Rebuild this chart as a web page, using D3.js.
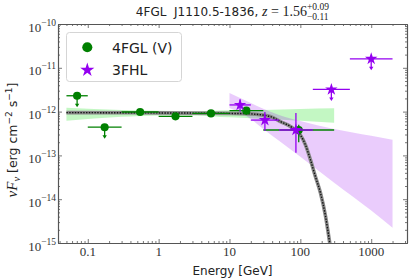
<!DOCTYPE html>
<html>
<head>
<meta charset="utf-8">
<script src="https://cdn.jsdelivr.net/npm/d3@7"></script>
<style>
body{margin:0;background:#fff;}
svg{display:block;}
</style>
</head>
<body>
<div id="chart"></div>
<script>
// 4FGL (V) band points [GeV], nuFnu [erg cm-2 s-1]
var fglE    = [0.0707, 0.173, 0.548, 1.73, 5.48, 17.3, 94.9];
var fglElo  = [0.05, 0.1, 0.3, 1, 3, 10, 30];
var fglEhi  = [0.1, 0.3, 1, 3, 10, 30, 300];
var fglF    = [2.3e-12, 4.4e-13, 9.8e-13, 7.8e-13, 9.1e-13, 1.05e-12, 3.8e-13];
var fglFlo  = [null, null, 9.0e-13, 7.2e-13, 8.5e-13, 9.6e-13, 2.0e-13];
var fglFhi  = [null, null, 1.06e-12, 8.4e-13, 9.7e-13, 1.14e-12, 5.0e-13];
var fglUL   = [true, true, false, false, false, false, false];

// 3FHL points
var fhlE    = [14.1, 31.6, 86.6, 274, 1000];
var fhlElo  = [10, 20, 50, 150, 500];
var fhlEhi  = [20, 50, 150, 500, 2000];
var fhlF    = [1.42e-12, 6.4e-13, 3.8e-13, 3.2e-12, 1.6e-11];
var fhlFlo  = [1.0e-12, 3.6e-13, 1.15e-13, null, null];
var fhlFhi  = [1.9e-12, 9.8e-13, 9.3e-13, null, null];
var fhlUL   = [false, false, false, true, true];

// butterflies
var fglBandE  = [0.05, 0.3, 1, 3, 10, 30, 100, 300];
var fglBandHi = [1.23e-12, 1.09e-12, 1.04e-12, 1.01e-12, 1.07e-12, 1.09e-12, 1.15e-12, 1.19e-12];
var fglBandLo = [6.2e-13, 7.6e-13, 8.2e-13, 8.2e-13, 7.4e-13, 6.8e-13, 6.2e-13, 5.6e-13];
var fhlBandE  = [10, 20, 30, 50, 100, 300, 1000, 2000];
var fhlBandHi = [2.67e-12, 1.58e-12, 1.16e-12, 8.4e-13, 6.1e-13, 4.0e-13, 2.8e-13, 2.27e-13];
var fhlBandLo = [1.21e-12, 6.8e-13, 4.0e-13, 2.15e-13, 9.3e-14, 2.37e-14, 5.5e-15, 2.24e-15];

// model curve
var modelE = [0.05, 1, 10, 19.7, 37.8, 52.4, 72.5, 100, 118, 139, 163, 192, 226, 260, 300];
var modelF = [9.5e-13, 9.33e-13, 9.1e-13, 8.87e-13, 7.7e-13, 5.9e-13, 4.55e-13, 2.94e-13, 1.74e-13, 7.9e-14, 3.3e-14, 1.4e-14, 4.2e-15, 1.0e-15, 2e-16];

var xMajor = [0.1, 1, 10, 100, 1000];
var xMajorLabels = ["0.1", "1", "10", "100", "1000"];
var yMajor = [1e-15, 1e-14, 1e-13, 1e-12, 1e-11, 1e-10];
var yExp = ["\u221215", "\u221214", "\u221213", "\u221212", "\u221211", "\u221210"];

var W = 420, H = 280;
var margin = {top: 24, right: 13, bottom: 37, left: 58};
var width = W - margin.left - margin.right,
    height = H - margin.top - margin.bottom;
var sans = "DejaVu Sans, sans-serif",
    serif = "Liberation Serif, DejaVu Serif, serif";
var cGreen = "#008000", cPurple = "#9400f0", cAxis = "#555";

var x = d3.scaleLog().domain([0.038, 3200]).range([0, width]);
var y = d3.scaleLog().domain([1e-15, 1e-10]).range([height, 0]);

var svg0 = d3.select("#chart").append("svg")
    .attr("width", W).attr("height", H);
var svg = svg0.append("g")
    .attr("transform", "translate(" + margin.left + "," + margin.top + ")");

svg.append("clipPath").attr("id", "clip")
    .append("rect").attr("width", width).attr("height", height);
var plot = svg.append("g").attr("clip-path", "url(#clip)");

// bands
var band = d3.area()
    .x(function(d){ return x(d[0]); })
    .y0(function(d){ return y(d[1]); })
    .y1(function(d){ return y(d[2]); })
    .curve(d3.curveMonotoneX);
plot.append("path")
    .datum(fglBandE.map(function(e, i){ return [e, fglBandLo[i], fglBandHi[i]]; }))
    .attr("d", band)
    .attr("fill", "#22e022").attr("fill-opacity", 0.27);
plot.append("path")
    .datum(fhlBandE.map(function(e, i){ return [e, fhlBandLo[i], fhlBandHi[i]]; }))
    .attr("d", band)
    .attr("fill", cPurple).attr("fill-opacity", 0.2);

// model line
var line = d3.line()
    .x(function(d){ return x(d[0]); })
    .y(function(d){ return y(d[1]); })
    .curve(d3.curveMonotoneX);
var modelData = modelE.map(function(e, i){ return [e, modelF[i]]; });
plot.append("path").datum(modelData).attr("d", line)
    .attr("fill", "none").attr("stroke", "#888").attr("stroke-width", 3.6);
plot.append("path").datum(modelData).attr("d", line)
    .attr("fill", "none").attr("stroke", "#111").attr("stroke-width", 1.4)
    .attr("stroke-dasharray", "1.4,1.4");

// error bars + upper limit arrows
function drawPoints(E, Elo, Ehi, F, Flo, Fhi, UL, color, shape){
    var g = plot.append("g");
    E.forEach(function(e, i){
        var cx = x(e), cy = y(F[i]);
        g.append("line").attr("x1", x(Elo[i])).attr("x2", x(Ehi[i]))
            .attr("y1", cy).attr("y2", cy)
            .attr("stroke", color).attr("stroke-width", 1.3);
        if (UL[i]) {
            g.append("line").attr("x1", cx).attr("x2", cx)
                .attr("y1", cy).attr("y2", cy + 9)
                .attr("stroke", color).attr("stroke-width", 1.3);
            g.append("path")
                .attr("d", "M" + (cx - 2.2) + "," + (cy + 8) + "L" + (cx + 2.2) + "," + (cy + 8) + "L" + cx + "," + (cy + 11.5) + "Z")
                .attr("fill", color);
        } else if (Flo[i] != null) {
            g.append("line").attr("x1", cx).attr("x2", cx)
                .attr("y1", y(Fhi[i])).attr("y2", y(Flo[i]))
                .attr("stroke", color).attr("stroke-width", 1.3);
        }
    });
    g.selectAll("path.mk")
        .data(E)
        .enter()
        .append("path")
        .attr("class", "mk")
        .attr("transform", function(d, i){ return "translate(" + x(d) + "," + y(F[i]) + ")"; })
        .attr("d", shape)
        .attr("fill", color);
}
drawPoints(fglE, fglElo, fglEhi, fglF, fglFlo, fglFhi, fglUL, cGreen, d3.symbol().type(d3.symbolCircle).size(52)());
drawPoints(fhlE, fhlElo, fhlEhi, fhlF, fhlFlo, fhlFhi, fhlUL, cPurple, d3.symbol().type(d3.symbolStar).size(48)());

// axes, ticks inward on all sides
var xMinor = x.ticks().filter(function(t){ return xMajor.indexOf(t) < 0; });
var yMinor = y.ticks().filter(function(t){ return yMajor.indexOf(+t.toExponential(0)) < 0; });
function axisG(ax, tr){
    var g = svg.append("g").attr("transform", tr).call(ax);
    g.selectAll("text").remove();
    g.select(".domain").attr("stroke", cAxis).attr("stroke-width", 1.1);
    g.selectAll(".tick line").attr("stroke", cAxis).attr("stroke-width", 0.8);
    return g;
}
axisG(d3.axisBottom(x).tickValues(xMinor).tickSizeInner(-2).tickSizeOuter(0), "translate(0," + height + ")");
axisG(d3.axisBottom(x).tickValues(xMajor).tickSizeInner(-4).tickSizeOuter(0), "translate(0," + height + ")");
axisG(d3.axisTop(x).tickValues(xMinor).tickSizeInner(-2).tickSizeOuter(0), "translate(0,0)");
axisG(d3.axisTop(x).tickValues(xMajor).tickSizeInner(-4).tickSizeOuter(0), "translate(0,0)");
axisG(d3.axisLeft(y).tickValues(yMinor).tickSizeInner(-2).tickSizeOuter(0), "translate(0,0)");
axisG(d3.axisLeft(y).tickValues(yMajor).tickSizeInner(-4).tickSizeOuter(0), "translate(0,0)");
axisG(d3.axisRight(y).tickValues(yMinor).tickSizeInner(-2).tickSizeOuter(0), "translate(" + width + ",0)");
axisG(d3.axisRight(y).tickValues(yMajor).tickSizeInner(-4).tickSizeOuter(0), "translate(" + width + ",0)");

// tick labels
svg.append("g").selectAll("text")
    .data(xMajor)
    .enter()
    .append("text")
    .attr("x", function(d){ return x(d); })
    .attr("y", height + 12.7)
    .attr("text-anchor", "middle")
    .attr("font-family", serif).attr("font-size", 13).attr("fill", "#333")
    .text(function(d, i){ return xMajorLabels[i]; });
var yl = svg.append("g").selectAll("text")
    .data(yMajor)
    .enter()
    .append("text")
    .attr("x", -2)
    .attr("y", function(d){ return y(d) + 7.5; })
    .attr("text-anchor", "end")
    .attr("font-family", serif).attr("font-size", 13).attr("fill", "#333");
yl.append("tspan").text("10");
yl.append("tspan").attr("font-size", 9.5).attr("dy", -6).text(function(d, i){ return yExp[i]; });

// axis titles
svg0.append("text")
    .attr("x", margin.left + width / 2).attr("y", 275)
    .attr("text-anchor", "middle")
    .attr("font-family", sans).attr("font-size", 12).attr("fill", "#222")
    .text("Energy [GeV]");
var ylab = svg0.append("text")
    .attr("transform", "translate(17,140) rotate(-90)")
    .attr("text-anchor", "middle")
    .attr("font-family", sans).attr("font-size", 12.5).attr("fill", "#222");
ylab.append("tspan").attr("font-family", serif).attr("font-style", "italic").attr("font-size", 15).text("\u03bdF");
ylab.append("tspan").attr("font-family", serif).attr("font-style", "italic").attr("font-size", 10.5).attr("dy", 3).text("\u03bd");
ylab.append("tspan").attr("dy", -3).text(" [erg cm");
ylab.append("tspan").attr("font-size", 9).attr("dy", -5).text("\u22122");
ylab.append("tspan").attr("dy", 5).text(" s");
ylab.append("tspan").attr("font-size", 9).attr("dy", -5).text("\u22121");
ylab.append("tspan").attr("dy", 5).text("]");

// title
var title = svg0.append("text").attr("y", 16)
    .attr("font-family", sans).attr("font-size", 12).attr("fill", "#222");
title.append("tspan").text("4FGL\u00a0\u00a0J1110.5-1836,\u00a0");
title.append("tspan").attr("font-family", serif).attr("font-style", "italic").attr("font-size", 14).text("z");
title.append("tspan").attr("font-family", serif).attr("font-size", 14).text("\u00a0=\u00a01.56");
var sup = title.append("tspan").attr("font-family", serif).attr("font-size", 9.5).attr("dy", -6).text("+0.09");
var sw = sup.node().getComputedTextLength();
title.append("tspan").attr("font-family", serif).attr("font-size", 9.5)
    .attr("dx", -sw).attr("dy", 10).text("\u22120.11");
var tb = title.node().getBBox();
title.attr("x", margin.left + width / 2 - tb.width / 2);

// legend
var leg = svg0.append("g");
leg.append("rect")
    .attr("x", 66.5).attr("y", 32.5).attr("width", 115).attr("height", 49)
    .attr("rx", 3).attr("fill", "#fff").attr("fill-opacity", 0.85)
    .attr("stroke", "#d5d5d5").attr("stroke-width", 1);
leg.append("path")
    .attr("transform", "translate(87.3,47.3)")
    .attr("d", d3.symbol().type(d3.symbolCircle).size(80)())
    .attr("fill", cGreen);
leg.append("path")
    .attr("transform", "translate(87.3,70)")
    .attr("d", d3.symbol().type(d3.symbolStar).size(62)())
    .attr("fill", cPurple);
leg.append("text").attr("x", 112).attr("y", 52.5)
    .attr("font-family", sans).attr("font-size", 14).attr("fill", "#222")
    .text("4FGL (V)");
leg.append("text").attr("x", 112).attr("y", 75)
    .attr("font-family", sans).attr("font-size", 14).attr("fill", "#222")
    .text("3FHL");
</script>
</body>
</html>
